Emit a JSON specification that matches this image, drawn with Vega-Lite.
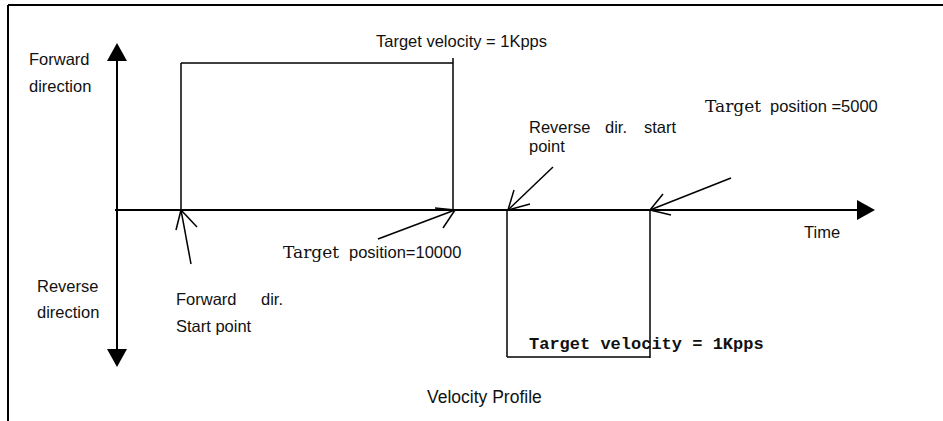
{
  "$schema": "https://vega.github.io/schema/vega-lite/v6.json",
  "width": 943,
  "height": 421,
  "padding": 0,
  "autosize": {"type": "none"},
  "background": "white",
  "config": {"view": {"stroke": null}},
  "datasets": {
    "segments": [
      {"group": "frame", "x": 8, "x2": 943, "v": 1.3946, "v2": 1.3946},
      {"group": "frame", "x": 8, "x2": 8, "v": 1.3946, "v2": -1.4354},
      {"group": "axis", "x": 117, "x2": 117, "v": 1.0544, "v2": -0.9864},
      {"group": "axis", "x": 115, "x2": 860, "v": 0, "v2": 0},
      {"group": "profile", "x": 181, "x2": 181, "v": 0, "v2": 1.0},
      {"group": "profile", "x": 181, "x2": 453, "v": 1.0, "v2": 1.0},
      {"group": "profile", "x": 453, "x2": 453, "v": 1.034, "v2": 0},
      {"group": "profile", "x": 507, "x2": 507, "v": 0, "v2": -1.0},
      {"group": "profile", "x": 507, "x2": 650, "v": -1.0, "v2": -1.0},
      {"group": "profile", "x": 650, "x2": 650, "v": 0, "v2": -1.0068},
      {"group": "pointer", "x": 191, "x2": 181, "v": -0.3673, "v2": 0},
      {"group": "pointer", "x": 181, "x2": 176, "v": 0, "v2": -0.1361},
      {"group": "pointer", "x": 181, "x2": 197, "v": 0, "v2": -0.1156},
      {"group": "pointer", "x": 378, "x2": 455, "v": -0.1973, "v2": 0},
      {"group": "pointer", "x": 455, "x2": 435, "v": 0, "v2": 0.0136},
      {"group": "pointer", "x": 455, "x2": 443, "v": 0, "v2": -0.1224},
      {"group": "pointer", "x": 553, "x2": 508, "v": 0.2925, "v2": 0},
      {"group": "pointer", "x": 508, "x2": 514, "v": 0, "v2": 0.136},
      {"group": "pointer", "x": 508, "x2": 530, "v": 0, "v2": 0.0408},
      {"group": "pointer", "x": 731, "x2": 650, "v": 0.2177, "v2": 0},
      {"group": "pointer", "x": 650, "x2": 663, "v": 0, "v2": 0.1088},
      {"group": "pointer", "x": 650, "x2": 671, "v": 0, "v2": -0.034}
    ],
    "heads": [
      {"dir": "up", "x": 117, "v": 1.0748},
      {"dir": "down", "x": 117, "v": -1.0068},
      {"dir": "right", "x": 866, "v": 0}
    ],
    "labels": [
      {"font": "sans", "x": 29, "v": 0.9864, "text": "Forward"},
      {"font": "sans", "x": 29, "v": 0.8027, "text": "direction"},
      {"font": "sans", "x": 376, "v": 1.1088, "text": "Target velocity = 1Kpps"},
      {"font": "sans", "x": 529, "v": 0.5238, "text": "Reverse"},
      {"font": "sans", "x": 605, "v": 0.5238, "text": "dir."},
      {"font": "sans", "x": 644, "v": 0.5238, "text": "start"},
      {"font": "sans", "x": 529, "v": 0.3946, "text": "point"},
      {"font": "serif", "x": 705, "v": 0.6667, "text": "Target"},
      {"font": "sans", "x": 770, "v": 0.6667, "text": "position =5000"},
      {"font": "sans", "x": 804, "v": -0.1905, "text": "Time"},
      {"font": "serif", "x": 283, "v": -0.3265, "text": "Target"},
      {"font": "sans", "x": 349, "v": -0.3265, "text": "position=10000"},
      {"font": "sans", "x": 37, "v": -0.5578, "text": "Reverse"},
      {"font": "sans", "x": 37, "v": -0.7347, "text": "direction"},
      {"font": "sans", "x": 176, "v": -0.6463, "text": "Forward"},
      {"font": "sans", "x": 261, "v": -0.6463, "text": "dir."},
      {"font": "sans", "x": 176, "v": -0.8299, "text": "Start point"},
      {"font": "mono", "x": 529, "v": -0.9456, "text": "Target velocity = 1Kpps"},
      {"font": "title", "x": 427, "v": -1.3129, "text": "Velocity Profile"}
    ]
  },
  "encoding": {
    "x": {"field": "x", "type": "quantitative", "scale": {"domain": [0, 943], "nice": false, "zero": false}, "axis": null},
    "y": {"field": "v", "type": "quantitative", "scale": {"domain": [-1.43537, 1.42857], "nice": false, "zero": false}, "axis": null}
  },
  "layer": [
    {
      "data": {"name": "segments"},
      "transform": [{"filter": "datum.group === 'frame' || datum.group === 'axis'"}],
      "mark": {"type": "rule", "color": "#000", "strokeWidth": 2},
      "encoding": {"x2": {"field": "x2"}, "y2": {"field": "v2"}}
    },
    {
      "data": {"name": "segments"},
      "transform": [{"filter": "datum.group === 'profile' || datum.group === 'pointer'"}],
      "mark": {"type": "rule", "color": "#000", "strokeWidth": 1.5},
      "encoding": {"x2": {"field": "x2"}, "y2": {"field": "v2"}}
    },
    {
      "data": {"name": "heads"},
      "mark": {"type": "point", "filled": true, "color": "#000", "opacity": 1, "size": 400, "strokeWidth": 0},
      "encoding": {
        "shape": {"field": "dir", "type": "nominal", "legend": null,
          "scale": {"domain": ["up", "down", "right"], "range": ["M-1,0.9L0,-0.9L1,0.9Z", "M-1,-0.9L0,0.9L1,-0.9Z", "M-0.9,-1L0.9,0L-0.9,1Z"]}}
      }
    },
    {
      "data": {"name": "labels"},
      "transform": [{"filter": "datum.font === 'sans'"}],
      "mark": {"type": "text", "font": "Liberation Sans", "fontSize": 16.5, "align": "left", "baseline": "alphabetic", "color": "#111"},
      "encoding": {"text": {"field": "text"}}
    },
    {
      "data": {"name": "labels"},
      "transform": [{"filter": "datum.font === 'title'"}],
      "mark": {"type": "text", "font": "Liberation Sans", "fontSize": 17.5, "align": "left", "baseline": "alphabetic", "color": "#111"},
      "encoding": {"text": {"field": "text"}}
    },
    {
      "data": {"name": "labels"},
      "transform": [{"filter": "datum.font === 'serif'"}],
      "mark": {"type": "text", "font": "DejaVu Serif", "fontSize": 17, "align": "left", "baseline": "alphabetic", "color": "#111"},
      "encoding": {"text": {"field": "text"}}
    },
    {
      "data": {"name": "labels"},
      "transform": [{"filter": "datum.font === 'mono'"}],
      "mark": {"type": "text", "font": "Liberation Mono", "fontWeight": "bold", "fontSize": 17, "align": "left", "baseline": "alphabetic", "color": "#111"},
      "encoding": {"text": {"field": "text"}}
    }
  ]
}
